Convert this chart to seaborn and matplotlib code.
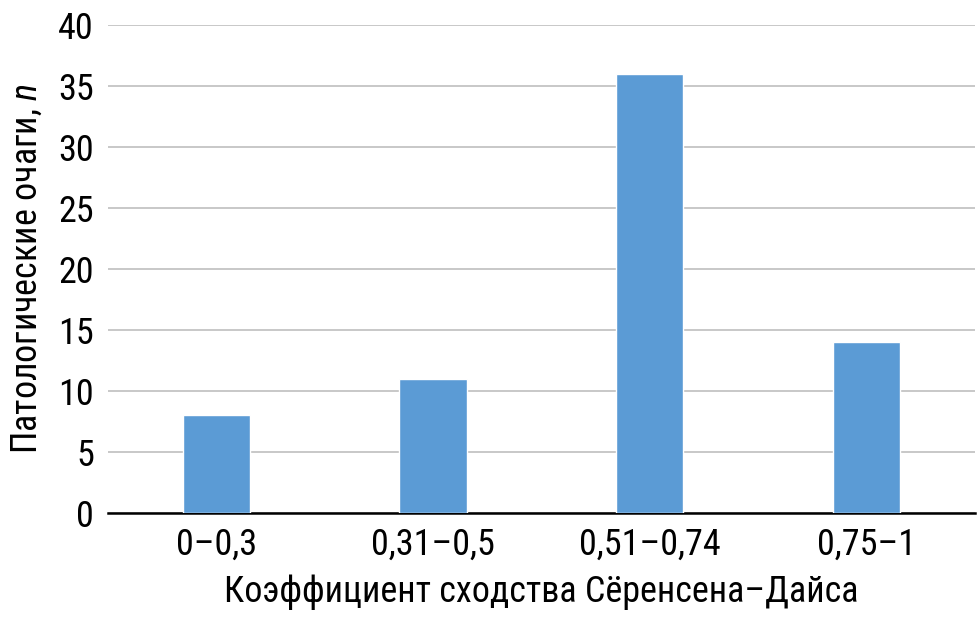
import seaborn as sns
import matplotlib.pyplot as plt
import pandas as pd

categories = ['0–0,3', '0,31–0,5', '0,51–0,74', '0,75–1']
counts = [8, 11, 36, 14]
yticks = [0, 5, 10, 15, 20, 25, 30, 35, 40]

sns.set_style('white')
plt.rcParams['font.family'] = ['Roboto Condensed', 'Roboto', 'DejaVu Sans']
plt.rcParams['mathtext.fontset'] = 'custom'
plt.rcParams['mathtext.it'] = 'Roboto Condensed:italic'
plt.rcParams['text.color'] = 'black'
plt.rcParams['xtick.color'] = 'black'
plt.rcParams['ytick.color'] = 'black'
plt.rcParams['axes.labelcolor'] = 'black'

df = pd.DataFrame({'cat': categories, 'n': counts})

fig, ax = plt.subplots(figsize=(9.8, 6.18), dpi=100)
fig.subplots_adjust(left=0.11, right=0.995, top=0.96, bottom=0.17)

sns.barplot(data=df, x='cat', y='n', color='#5B9BD5', width=0.31,
            saturation=1, ax=ax, zorder=3)

ax.set_ylim(0, 40)
ax.set_yticks(yticks)
ax.yaxis.grid(True, color='#BFBFBF', linewidth=1.2, zorder=0)
ax.set_axisbelow(True)
for s in ['left', 'right', 'top']:
    ax.spines[s].set_visible(False)
ax.spines['bottom'].set_color('black')
ax.spines['bottom'].set_linewidth(1.8)
ax.tick_params(axis='both', length=0, labelsize=26, pad=10)
ax.set_xlabel('Коэффициент сходства Сёренсена–Дайса', fontsize=26, labelpad=8)
ax.set_ylabel('Патологические очаги, $\\it{n}$', fontsize=26, labelpad=10)

fig.savefig('out.png', dpi=100)
